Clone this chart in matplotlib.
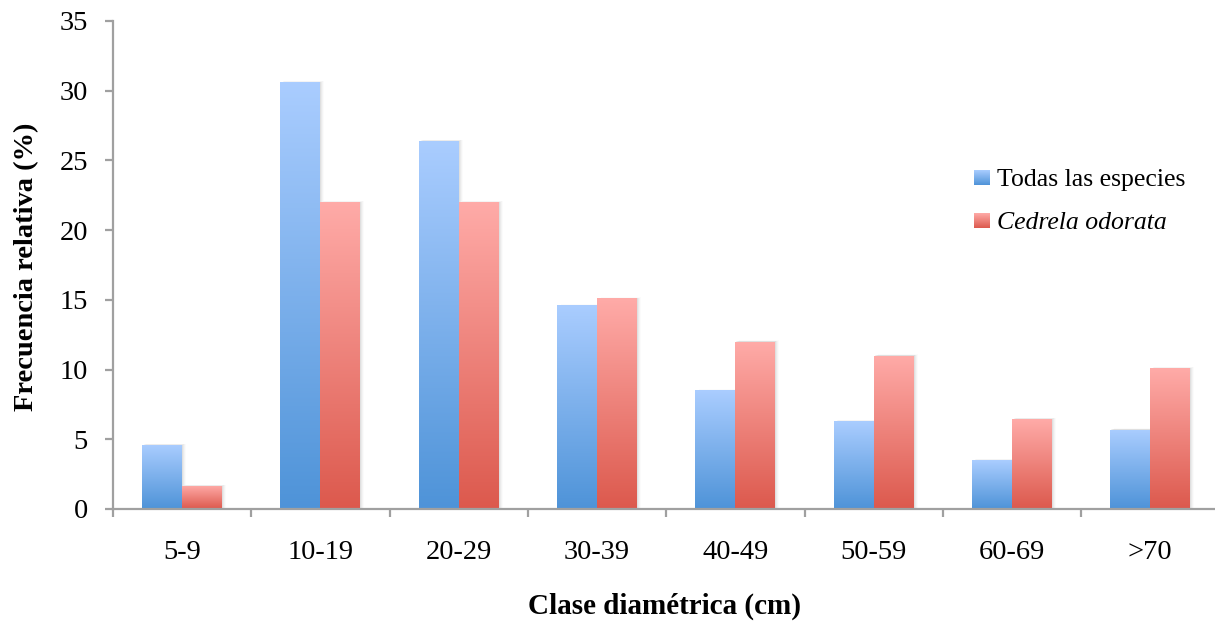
import numpy as np
import matplotlib
matplotlib.use('Agg')
import matplotlib.pyplot as plt
from matplotlib.colors import LinearSegmentedColormap
from matplotlib.patches import Rectangle

# diameter classes and relative frequency (%)
clases = ['5-9', '10-19', '20-29', '30-39', '40-49', '50-59', '60-69', '>70']
todas = [4.6, 30.6, 26.4, 14.6, 8.5, 6.3, 3.5, 5.7]
cedrela = [1.65, 22.0, 22.0, 15.1, 12.0, 11.0, 6.45, 10.1]

plt.rcParams['font.family'] = ['Liberation Serif', 'DejaVu Serif']

blue_cmap = LinearSegmentedColormap.from_list('blue', ['#4e93d8', '#aacdff'])
red_cmap = LinearSegmentedColormap.from_list('red', ['#dc594d', '#ffaba8'])
grad = np.linspace(0, 1, 256).reshape(-1, 1)

fig = plt.figure(figsize=(12.15, 6.21), dpi=100)
ax = fig.add_axes([113 / 1215, 112 / 621, 1102 / 1215, 488 / 621])

x = np.arange(len(clases))
w = 0.289
px_x = 1 / 138.3
px_y = 1 / 13.94


def gradient_bars(xs, vals, cmap):
    bars = ax.bar(xs, vals, width=w, color='none', edgecolor='none', zorder=3)
    for b in bars:
        x0, h = b.get_x(), b.get_height()
        # soft shadow on the right side
        for k, a in zip((1, 2, 3, 4), (0.10, 0.07, 0.05, 0.03)):
            ax.add_patch(Rectangle((x0 + k * px_x, 0), w, h + k * 0.3 * px_y,
                                   facecolor='#808080', edgecolor='none',
                                   alpha=a, zorder=1))
        im = ax.imshow(grad, cmap=cmap, origin='lower', aspect='auto',
                       extent=(x0, x0 + w, 0, h), zorder=2,
                       interpolation='bilinear')
        im.set_clip_path(b)
    return bars


gradient_bars(x - w / 2, todas, blue_cmap)
gradient_bars(x + w / 2, cedrela, red_cmap)

ax.set_xlim(-0.5, -0.5 + 1102 * px_x)
ax.set_ylim(0, 35)
ax.set_yticks(range(0, 36, 5))
ax.set_xticks(x)
ax.set_xticklabels(clases)
ax.set_xticks(np.arange(-0.5, 7, 1), minor=True)

for s in ('top', 'right'):
    ax.spines[s].set_visible(False)
for s in ('left', 'bottom'):
    ax.spines[s].set_color('#a0a0a0')
    ax.spines[s].set_linewidth(1.6)
    ax.spines[s].set_zorder(4)

ax.tick_params(axis='x', which='major', length=0, pad=22, labelsize=20.5)
ax.tick_params(axis='x', which='minor', length=6, width=1.6, color='#a0a0a0')
ax.tick_params(axis='y', length=6, width=1.6, color='#a0a0a0', pad=12,
               labelsize=20.5)

fig.text(27 / 1215, 1 - 267 / 621, 'Frecuencia relativa (%)', rotation=90,
         ha='center', va='center', fontsize=20.5, fontweight='bold')
fig.text(665 / 1215, 1 - 606 / 621, 'Clase diamétrica (cm)',
         ha='center', va='center', fontsize=21, fontweight='bold')

# legend with gradient swatches
for ytop, cmap, label, style in ((170, blue_cmap, 'Todas las especies', 'normal'),
                                 (213, red_cmap, 'Cedrela odorata', 'italic')):
    sw = fig.add_axes([974 / 1215, 1 - (ytop + 15) / 621, 16 / 1215, 15 / 621])
    sw.imshow(grad, cmap=cmap, origin='lower', aspect='auto')
    sw.set_axis_off()
    fig.text(997 / 1215, 1 - (ytop + 10) / 621, label, ha='left', va='center',
             fontsize=18.5, fontstyle=style)

fig.savefig('out.png', dpi=100, facecolor='white')
